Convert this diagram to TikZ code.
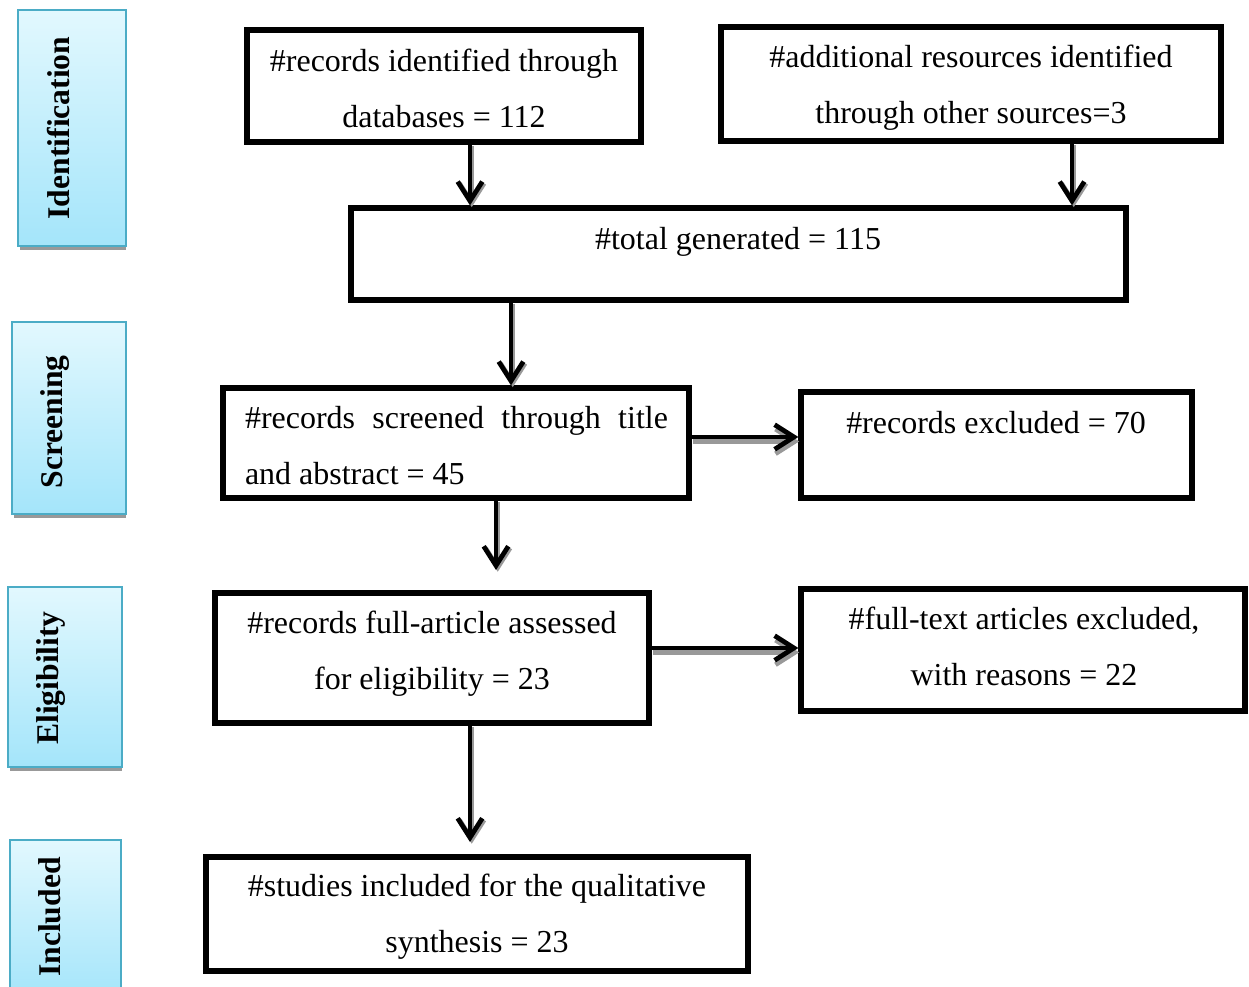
\documentclass[tikz,border=0pt]{standalone}
\usepackage{fontspec}
\setmainfont{Liberation Serif}
\usetikzlibrary{arrows.meta,fit}
\definecolor{sideborder}{HTML}{4BACC6}
\definecolor{sidetop}{HTML}{E2F8FE}
\definecolor{sidebot}{HTML}{A4E5FA}
\begin{document}
\begin{tikzpicture}[x=0.02cm,y=-0.02cm,
  boxn/.style={draw=black,line width=3pt,inner sep=0pt},
  txt/.style={font=\fontsize{18.2pt}{31.9pt}\selectfont,inner sep=0pt,align=center},
  sidebox/.style={draw=sideborder,line width=1.2pt,top color=sidetop,bottom color=sidebot,inner sep=0pt},
  sideshadow/.style={fill=black!40},
  sidetxt/.style={font=\fontsize{18pt}{20pt}\selectfont\bfseries,rotate=90,inner sep=0pt},
  arr/.style={line width=2.7pt,-{Straight Barb[length=11pt,width=14pt]}},
  arrsh/.style={arr,draw=black!40}
]
\useasboundingbox (0,0) rectangle (1249,987);

% side phase boxes
\fill[sideshadow] (20,243) rectangle (126,250);
\node[sidebox,fit={(18,10) (126,246)}] (s1) {};
\node[sidetxt] (s1t) at (59,128) {Identification};
\fill[sideshadow] (14,511) rectangle (126,518);
\node[sidebox,fit={(12,322) (126,514)}] (s2) {};
\node[sidetxt] (s2t) at (55,422) {Screening};
\fill[sideshadow] (10,764) rectangle (122,771);
\node[sidebox,fit={(8,587) (122,767)}] (s3) {};
\node[sidetxt] (s3t) at (51,678) {Eligibility};
\node[sidebox,fit={(10,840) (121,1000)}] (s4) {};
\node[sidetxt] (s4t) at (50,917) {Included};

% main boxes
\node[boxn,fit={(247,30) (641,142)}] (a) {};
\node[txt] (at) at (444,88) {\#records identified through\\databases = 112};
\node[boxn,fit={(721,27) (1221,141)}] (b) {};
\node[txt] (bt) at (971,88) {\#additional resources identified\\through other sources=3};
\node[boxn,fit={(351,208) (1126,300)}] (c) {};
\node[txt] (ct) at (738,242) {\#total generated = 115};
\node[boxn,fit={(223,388) (689,498)}] (d) {};
\node[txt,text width=8.46cm,align=justify] (dt) at (456.5,446) {\#records screened through title\linebreak and abstract = 45};
\node[boxn,fit={(801,392) (1192,498)}] (e) {};
\node[txt] (et) at (996,423) {\#records excluded = 70};
\node[boxn,fit={(215,593) (649,723)}] (f) {};
\node[txt] (ft) at (432,654) {\#records full-article assessed\\for eligibility = 23};
\node[boxn,fit={(801,589) (1245,711)}] (g) {};
\node[txt] (gt) at (1024,646) {\#full-text articles excluded,\\with reasons = 22};
\node[boxn,fit={(206,857) (748,971)}] (h) {};
\node[txt] (ht) at (477,917) {\#studies included for the qualitative\\synthesis = 23};

% guide coordinates
\coordinate (xab) at (470,0);
\coordinate (xbc) at (1072,0);
\coordinate (xcd) at (511,0);
\coordinate (xdn) at (496,0);
\coordinate (dend) at (496,570);
\coordinate (xfh) at (470,0);
\coordinate (fend) at (470,842);
\coordinate (yde) at (0,437);
\coordinate (yfg) at (0,648);

% arrows (shadow first)
\draw[arrsh,transform canvas={shift={(1pt,-1pt)}}] (a.south -| xab) -- (c.north -| xab);
\draw[arr] (a.south -| xab) -- (c.north -| xab);
\draw[arrsh,transform canvas={shift={(1pt,-1pt)}}] (b.south -| xbc) -- (c.north -| xbc);
\draw[arr] (b.south -| xbc) -- (c.north -| xbc);
\draw[arrsh,transform canvas={shift={(1pt,-1pt)}}] (c.south -| xcd) -- (d.north -| xcd);
\draw[arr] (c.south -| xcd) -- (d.north -| xcd);
\draw[arrsh,transform canvas={shift={(1pt,-1pt)}}] (d.south -| xdn) -- (dend);
\draw[arr] (d.south -| xdn) -- (dend);
\draw[arrsh,transform canvas={shift={(0.5pt,-2.5pt)}}] (d.east |- yde) -- (e.west |- yde);
\draw[arr] (d.east |- yde) -- (e.west |- yde);
\draw[arrsh,transform canvas={shift={(0.5pt,-2.5pt)}}] (f.east |- yfg) -- (g.west |- yfg);
\draw[arr] (f.east |- yfg) -- (g.west |- yfg);
\draw[arrsh,transform canvas={shift={(1pt,-1pt)}}] (f.south -| xfh) -- (fend);
\draw[arr] (f.south -| xfh) -- (fend);
\end{tikzpicture}
\end{document}
